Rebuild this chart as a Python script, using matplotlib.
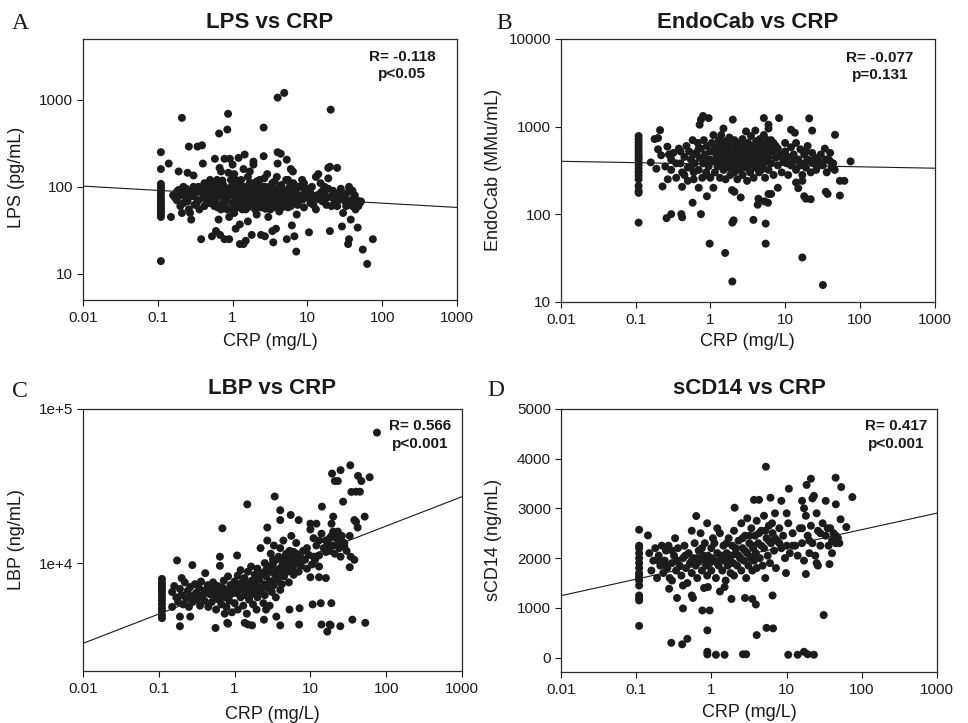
import numpy as np
import matplotlib
matplotlib.use("Agg")
import matplotlib.pyplot as plt
from matplotlib.ticker import NullLocator

plt.rcParams['font.family'] = ['Liberation Sans', 'DejaVu Sans']

# ---------------- DATA (CRP mg/L, marker value) ----------------
lps_points = [
    (0.11, 250), (0.11, 160), (0.11, 108), (0.11, 100), (0.11, 95), (0.11, 90), (0.11, 85), (0.11, 78),
    (0.11, 72), (0.11, 68), (0.11, 64), (0.11, 60), (0.11, 57), (0.11, 54), (0.11, 51), (0.11, 48),
    (0.11, 45), (0.11, 14),
    (0.14, 185), (0.15, 45), (0.16, 80), (0.17, 75), (0.18, 88), (0.18, 70), (0.19, 150), (0.19, 92),
    (0.2, 60), (0.21, 50), (0.21, 620), (0.22, 100), (0.23, 85), (0.24, 72), (0.25, 145), (0.25, 68),
    (0.26, 290), (0.26, 55), (0.27, 50), (0.28, 42), (0.28, 90), (0.3, 135), (0.3, 78), (0.31, 62),
    (0.32, 85), (0.34, 290), (0.35, 70), (0.36, 55), (0.38, 25), (0.39, 300), (0.4, 185), (0.4, 95),
    (0.42, 60), (0.45, 80), (0.47, 110), (0.5, 65), (0.5, 90), (0.53, 27), (0.55, 105), (0.58, 210),
    (0.58, 75), (0.6, 31), (0.6, 95), (0.62, 120), (0.63, 58), (0.65, 42), (0.66, 410), (0.67, 165),
    (0.68, 28), (0.7, 150), (0.7, 80), (0.72, 62), (0.75, 105), (0.78, 25), (0.78, 210), (0.8, 90),
    (0.82, 70), (0.85, 455), (0.85, 55), (0.87, 690), (0.88, 145), (0.9, 25), (0.9, 45), (0.92, 210),
    (0.95, 100), (0.95, 85), (1.0, 180), (1.0, 65), (1.05, 50), (1.1, 33), (1.1, 110), (1.1, 120),
    (1.15, 75), (1.2, 215), (1.2, 90), (1.25, 22), (1.25, 37), (1.3, 60), (1.35, 100), (1.4, 22),
    (1.4, 160), (1.45, 235), (1.5, 24), (1.5, 55), (1.55, 85), (1.6, 40), (1.6, 130), (1.7, 70),
    (1.8, 28), (1.8, 110), (1.9, 195), (1.9, 180), (1.9, 62), (2.0, 90), (2.1, 48), (2.2, 75),
    (2.3, 120), (2.4, 28), (2.4, 58), (2.5, 100), (2.6, 225), (2.6, 480), (2.7, 27), (2.7, 82),
    (2.8, 65), (2.9, 140), (3.0, 45), (3.0, 95), (3.1, 72), (3.2, 55), (3.3, 85), (3.4, 31),
    (3.4, 110), (3.5, 23), (3.5, 68), (3.6, 78), (3.7, 60), (3.8, 33), (3.8, 90), (3.9, 130),
    (4.0, 250), (4.0, 185), (4.0, 1060), (4.1, 72), (4.2, 52), (4.3, 100), (4.4, 240), (4.5, 80),
    (4.6, 62), (4.8, 88), (4.9, 1200), (5.0, 70), (5.2, 120), (5.3, 205), (5.3, 25), (5.5, 58),
    (5.7, 95), (6.0, 160), (6.0, 75), (6.2, 36), (6.4, 150), (6.5, 110), (6.7, 27), (6.8, 65),
    (7.0, 85), (7.1, 18), (7.2, 48), (7.5, 100), (8.0, 70), (8.5, 120), (9.0, 58), (9.5, 80),
    (10.0, 95), (10.5, 30), (11, 65), (12, 75), (13, 130), (13, 55), (14, 140), (15, 85), (16, 68),
    (17, 100), (18, 62), (19, 165), (19, 125), (20, 170), (20, 31), (20.5, 770), (21, 78), (22, 90),
    (23, 70), (25, 165), (25, 60), (27, 85), (29, 35), (30, 50), (32, 68), (35, 22), (36, 25),
    (36, 100), (37, 95), (38, 42), (40, 60), (42, 75), (44, 55), (46, 70), (47, 34), (50, 65),
    (55, 19), (63, 13), (75, 25),
    (0.8, 60), (0.85, 75), (0.9, 95), (0.95, 120), (1.0, 80), (1.0, 55), (1.05, 95), (1.1, 70),
    (1.15, 58), (1.2, 105), (1.2, 65), (1.25, 85), (1.3, 75), (1.3, 120), (1.35, 55), (1.4, 90),
    (1.45, 70), (1.5, 100), (1.5, 65), (1.55, 78), (1.6, 58), (1.65, 92), (1.7, 110), (1.75, 80),
    (1.8, 66), (1.85, 95), (1.9, 75), (2.0, 55), (2.0, 105), (2.1, 70), (2.15, 85), (2.2, 60),
    (2.3, 95), (2.35, 72), (2.4, 80), (2.5, 62), (2.55, 88), (2.6, 70), (2.7, 100), (2.75, 56),
    (2.8, 78), (2.9, 92), (3.0, 65), (3.0, 80), (3.1, 100), (3.2, 70), (3.25, 88), (3.3, 60),
    (3.4, 75), (3.5, 95), (3.5, 58), (3.6, 85), (3.7, 70), (3.8, 65), (3.9, 80), (4.0, 60),
    (4.1, 92), (4.2, 75), (4.3, 68), (4.5, 105), (4.6, 58), (4.7, 78), (4.9, 65), (5.0, 90),
    (5.2, 72), (5.4, 82), (5.6, 66), (5.8, 100), (6.0, 60), (6.3, 88), (6.6, 72), (7.0, 95),
    (7.4, 62), (7.8, 80), (8.2, 100), (8.8, 72), (9.3, 90),
    (0.35, 100), (0.4, 75), (0.45, 65), (0.5, 120), (0.55, 80), (0.6, 65), (0.65, 100), (0.7, 55),
    (0.72, 90), (0.75, 70), (10.5, 75), (11.5, 100), (12, 62), (13.5, 80), (15, 110), (16, 90),
    (18, 75), (21, 60), (24, 80), (26, 70), (28, 95), (31, 75), (33, 60), (34, 85), (38, 70),
    (41, 65), (43, 80), (48, 60), (52, 68),
    (0.2, 80), (0.22, 65), (0.24, 95), (0.27, 78), (0.3, 100), (0.33, 65), (0.37, 88), (0.42, 110),
    (0.45, 95), (0.48, 72), (0.52, 85), (0.57, 60), (0.62, 78), (0.68, 88), (0.73, 118), (0.77, 82),
    (1.05, 140), (1.15, 88), (1.6, 95), (1.7, 150), (2.1, 115), (2.2, 90), (2.45, 68), (2.65, 125),
    (2.85, 88), (3.15, 82), (3.45, 66), (3.65, 115), (4.4, 85), (4.8, 72), (5.5, 120), (5.9, 82),
    (6.8, 100), (7.6, 72), (9.0, 110), (11, 85), (14, 72), (17, 82), (19, 95), (23, 82), (30, 72),
    (35, 65), (40, 90), (45, 62),
]

endocab_points = [
    (0.11, 780), (0.11, 720), (0.11, 660), (0.11, 610), (0.11, 560), (0.11, 520), (0.11, 480),
    (0.11, 450), (0.11, 420), (0.11, 390), (0.11, 360), (0.11, 330), (0.11, 300), (0.11, 275),
    (0.11, 250), (0.11, 210), (0.11, 185), (0.11, 175), (0.11, 80),
    (0.26, 90), (0.3, 100), (0.41, 100), (0.42, 92), (0.58, 135), (0.75, 100), (0.98, 46), (1.58, 36),
    (1.97, 17), (1.97, 80), (2.05, 85), (1.95, 188), (2.1, 180), (2.55, 155), (3.77, 86), (4.3, 128),
    (4.4, 150), (5.5, 78), (5.5, 46), (5.3, 140), (5.9, 135), (6.0, 170), (6.5, 170), (8.0, 200),
    (17, 32), (32, 15.5), (19, 150), (22, 148), (18, 160), (15, 198), (14, 230), (17, 240), (35, 180),
    (37, 170), (54, 163), (54, 240), (62, 240), (75, 400), (46.5, 805), (21, 1240), (23, 900),
    (12, 920), (13.5, 850), (8.3, 1250), (5.2, 1250), (6.0, 1050), (6.0, 950), (2.0, 1200),
    (0.8, 1320), (0.95, 1250), (0.75, 1200), (0.72, 1050), (1.5, 950), (0.213, 910), (0.18, 720),
    (0.2, 740), (0.267, 590), (0.2, 550), (0.22, 470), (0.16, 390), (0.19, 330), (0.23, 207),
    (0.27, 250), (0.3, 320), (0.42, 205), (0.5, 240), (0.6, 300), (0.7, 200), (0.9, 160), (1.1, 200),
    (0.3, 420), (0.32, 500), (0.35, 260), (0.38, 560), (0.4, 380), (0.42, 300), (0.45, 450),
    (0.48, 600), (0.5, 340), (0.52, 520), (0.55, 420), (0.58, 700), (0.6, 250), (0.62, 380),
    (0.65, 500), (0.68, 650), (0.7, 320), (0.72, 440), (0.75, 560), (0.78, 260), (0.8, 380),
    (0.82, 700), (0.85, 480), (0.88, 300), (0.9, 600), (0.92, 420), (0.95, 350), (1.0, 520),
    (1.0, 260), (1.05, 650), (1.1, 400), (1.1, 800), (1.15, 300), (1.2, 480), (1.2, 580),
    (1.25, 350), (1.3, 700), (1.3, 420), (1.35, 260), (1.4, 520), (1.4, 800), (1.45, 380),
    (1.5, 600), (1.5, 320), (1.55, 460), (1.6, 680), (1.6, 250), (1.65, 400), (1.7, 550),
    (1.75, 340), (1.8, 480), (1.8, 750), (1.85, 280), (1.9, 420), (1.9, 620), (2.0, 360),
    (2.0, 500), (2.1, 700), (2.1, 300), (2.2, 450), (2.2, 580), (2.3, 380), (2.3, 250), (2.4, 650),
    (2.4, 500), (2.5, 320), (2.5, 420), (2.6, 560), (2.7, 720), (2.7, 280), (2.8, 460), (2.8, 380),
    (2.9, 600), (3.0, 880), (3.0, 340), (3.0, 500), (3.1, 240), (3.2, 420), (3.2, 650), (3.3, 560),
    (3.4, 300), (3.5, 480), (3.5, 780), (3.6, 380), (3.7, 600), (3.8, 440), (3.8, 260), (3.9, 520),
    (4.0, 900), (4.0, 340), (4.1, 680), (4.2, 460), (4.3, 400), (4.4, 580), (4.5, 300), (4.6, 720),
    (4.7, 500), (4.8, 420), (5.0, 620), (5.0, 360), (5.2, 800), (5.2, 480), (5.4, 260), (5.5, 560),
    (5.6, 400), (5.8, 700), (6.0, 450), (6.0, 320), (6.2, 600), (6.5, 380), (6.8, 520), (7.0, 280),
    (7.0, 650), (7.5, 440), (8.0, 360), (8.0, 560), (8.5, 480), (9.0, 300), (9.5, 400), (10, 650),
    (10, 520), (11, 280), (11, 450), (12, 360), (12, 580), (13, 480), (14, 320), (14, 650), (15, 420),
    (16, 550), (17, 280), (18, 380), (18, 480), (19, 340), (20, 600), (20, 420), (22, 300), (23, 500),
    (24, 380), (25, 440), (26, 320), (28, 400), (30, 480), (32, 360), (34, 560), (36, 300), (38, 420),
    (40, 500), (42, 340), (44, 380), (46, 320),
    (0.25, 350), (0.28, 480), (0.35, 380), (0.4, 520), (0.45, 280), (0.55, 340), (0.6, 480),
    (0.7, 560), (0.85, 400), (0.9, 280), (1.0, 420), (1.15, 560), (1.25, 460), (1.35, 620),
    (1.6, 350), (1.7, 430), (2.0, 620), (2.2, 340), (2.6, 480), (2.9, 420), (3.3, 360), (3.6, 520),
    (4.0, 460), (4.3, 560), (4.8, 320), (5.0, 500), (5.5, 440), (6.2, 520), (6.5, 700), (7.5, 600),
    (9.0, 450), (10.5, 380), (13, 400), (16, 360), (19, 520), (22, 400), (27, 350), (35, 420),
    (40, 400),
]

lbp_points = [
    (0.11, 7900), (0.11, 7500), (0.11, 7200), (0.11, 6900), (0.11, 6600), (0.11, 6300), (0.11, 6000),
    (0.11, 5700), (0.11, 5400), (0.11, 5100), (0.11, 4900), (0.11, 4600), (0.11, 4400),
    (0.174, 10400), (0.277, 9700), (0.41, 8600), (0.2, 8000), (0.19, 4500), (0.19, 3900),
    (0.26, 4500), (0.15, 5200), (0.56, 3800), (0.8, 4100), (0.82, 4050), (0.74, 4700), (1.36, 4100),
    (1.5, 4000), (1.7, 3950), (2.44, 4300), (2.6, 5000), (3.55, 4500), (4.0, 3950), (5.3, 5000),
    (7.1, 4000), (7.2, 5100), (10.7, 5400), (13.7, 5500), (14, 4000), (18.9, 5500), (18, 4000),
    (18.5, 3950), (16.7, 3600), (24.8, 3900), (35.8, 4300), (53, 4100), (75.5, 70000), (33.6, 43000),
    (25, 40000), (19.3, 38000), (21, 34000), (23, 34000), (42.5, 36700), (47, 34000), (60.5, 36000),
    (34.7, 28900), (40, 29000), (45, 29000), (27, 25000), (14.2, 23200), (3.38, 27000),
    (1.47, 24000), (4.0, 22000), (0.69, 16800), (1.08, 11200), (0.64, 11000), (0.64, 9600),
    (5.5, 20500), (7, 19000), (4.0, 19000), (2.7, 17000), (10, 18000), (12, 18000), (20, 20000),
    (19, 18000), (38, 19000), (40, 18500), (42, 17000), (52, 20000), (33, 15000), (34, 11000),
    (38, 10500), (33, 9400), (25, 11000), (28, 13000), (16, 8000), (13, 8100), (10, 8100), (13, 9500),
    (0.15, 6500), (0.16, 7100), (0.17, 6000), (0.18, 5600), (0.19, 6800), (0.2, 6200), (0.21, 5400),
    (0.22, 7500), (0.23, 5900), (0.24, 6600), (0.25, 5200), (0.26, 7000), (0.27, 6100), (0.28, 5600),
    (0.3, 7300), (0.31, 6400), (0.32, 5800), (0.34, 6900), (0.35, 5300), (0.36, 7600), (0.38, 6200),
    (0.4, 5700), (0.42, 6700), (0.44, 7200), (0.45, 5200), (0.47, 6300), (0.5, 6900), (0.5, 5600),
    (0.52, 7500), (0.55, 6100), (0.57, 5000), (0.58, 6600), (0.6, 7100), (0.62, 5800), (0.65, 6400),
    (0.67, 5400), (0.7, 6900), (0.72, 7700), (0.75, 6000), (0.78, 5200), (0.8, 6600), (0.82, 8200),
    (0.85, 5700), (0.88, 7200), (0.9, 6300), (0.92, 4800), (0.95, 6900), (1.0, 7600), (1.0, 5500),
    (1.05, 6400), (1.1, 8300), (1.1, 5000), (1.15, 7000), (1.2, 6000), (1.2, 9000), (1.25, 7500),
    (1.3, 5300), (1.3, 6700), (1.35, 8000), (1.4, 6200), (1.45, 4700), (1.5, 7300), (1.5, 8800),
    (1.55, 5800), (1.6, 6800), (1.65, 9500), (1.7, 7700), (1.75, 5400), (1.8, 6400), (1.85, 8400),
    (1.9, 7100), (1.95, 5000), (2.0, 6000), (2.0, 9200), (2.1, 7800), (2.2, 6600), (2.2, 12500),
    (2.3, 8600), (2.4, 5500), (2.4, 7300), (2.5, 10000), (2.5, 6200), (2.6, 8200), (2.7, 14000),
    (2.7, 6900), (2.8, 9500), (2.9, 7600), (2.9, 5300), (3.0, 8800), (3.0, 11500), (3.1, 6500),
    (3.2, 9800), (3.3, 7200), (3.3, 13000), (3.4, 8400), (3.5, 10500), (3.5, 6000), (3.6, 9000),
    (3.7, 7800), (3.8, 11000), (3.9, 8600), (4.0, 6700), (4.0, 12500), (4.1, 9400), (4.2, 7300),
    (4.3, 10200), (4.4, 14000), (4.5, 8200), (4.6, 9700), (4.8, 11500), (5.0, 8800), (5.0, 10500),
    (5.2, 7500), (5.3, 12000), (5.5, 9300), (5.6, 15000), (5.8, 10800), (6.0, 8400), (6.0, 11800),
    (6.2, 9800), (6.5, 13500), (6.7, 10200), (7.0, 11000), (7.0, 8800), (7.5, 9600), (8.0, 12000),
    (8.5, 10500), (9.0, 9200), (9.5, 11300), (10, 16500), (10.5, 9800), (11, 14500), (11.5, 10500),
    (12, 13000), (13, 11200), (14, 15500), (15, 12500), (16, 14000), (17, 13200), (18, 12000),
    (19, 15000), (20, 13000), (21, 11500), (22, 14500), (23, 16000), (24, 12500), (26, 15000),
    (28, 13500), (30, 12000),
    (0.3, 6200), (0.4, 6400), (0.6, 5900), (0.7, 6300), (0.9, 7000), (1.1, 6600), (1.3, 7300),
    (1.6, 6200), (1.8, 7400), (2.0, 8000), (2.3, 7000), (2.6, 9000), (3.0, 7600), (3.2, 10500),
    (3.6, 8200), (4.2, 9000), (4.6, 11000), (5.2, 9800), (5.8, 9000), (6.5, 11500), (7.5, 10800),
    (9.0, 12500), (11, 11000), (13, 14000), (16, 11800), (18, 14500), (20, 16000), (23, 13000),
    (25, 14000),
]

scd14_points = [
    (0.11, 2570), (0.11, 2250), (0.11, 2200), (0.11, 2100), (0.11, 2000), (0.11, 1900), (0.11, 1800),
    (0.11, 1700), (0.11, 1650), (0.11, 1600), (0.11, 1550), (0.11, 1450), (0.11, 1250), (0.11, 1200),
    (0.11, 1150), (0.11, 640),
    (0.294, 300), (0.41, 270), (0.48, 380), (0.885, 550), (0.885, 120), (0.885, 67), (1.15, 60),
    (1.5, 60), (2.63, 70), (2.9, 70), (10.5, 60), (14, 60), (17, 120), (19, 70), (23, 60), (4.0, 455),
    (5.4, 600), (6.6, 590), (0.76, 950), (0.95, 950), (0.42, 990), (3.9, 1070), (3.5, 1180),
    (2.8, 1200), (31, 857), (5.3, 3835), (21, 3594), (18.4, 3470), (10.7, 3394), (44.7, 3614),
    (53, 3427), (74.5, 3226), (61.9, 2624), (52, 2780), (45, 3080), (33, 3150), (22, 3200),
    (23, 3250), (6.1, 3213), (3.68, 3170), (4.3, 3170), (8.5, 3150), (2.04, 3012), (0.63, 2845),
    (0.88, 2700), (0.144, 2456), (0.33, 2400), (10, 2900), (16, 3150), (17, 3000), (1.2, 2600),
    (0.275, 1385), (0.35, 1200), (0.55, 1250), (0.57, 1200), (0.42, 1450), (1.3, 1330), (1.5, 1420),
    (1.85, 1180), (6.5, 1250), (9.8, 1700), (18, 1680), (0.9, 1420), (0.3, 1550),
    (0.15, 2100), (0.16, 1750), (0.17, 1950), (0.18, 2200), (0.19, 1600), (0.2, 2050), (0.21, 1850),
    (0.22, 2250), (0.23, 1700), (0.24, 1950), (0.25, 2150), (0.26, 1800), (0.27, 2250), (0.28, 1600),
    (0.3, 1900), (0.32, 2050), (0.34, 1750), (0.36, 2200), (0.38, 1850), (0.4, 1650), (0.42, 2000),
    (0.44, 2250), (0.46, 1800), (0.48, 1500), (0.5, 2100), (0.52, 1900), (0.55, 2550), (0.55, 1700),
    (0.58, 2000), (0.6, 2300), (0.62, 1850), (0.65, 1600), (0.68, 2150), (0.7, 1950), (0.72, 2500),
    (0.75, 1750), (0.78, 2050), (0.8, 1400), (0.82, 2300), (0.85, 1850), (0.88, 1650), (0.9, 2050),
    (0.95, 1900), (1.0, 2200), (1.0, 1750), (1.05, 2400), (1.1, 1950), (1.15, 1600), (1.2, 2100),
    (1.25, 1850), (1.3, 2500), (1.35, 2000), (1.4, 1750), (1.45, 2250), (1.5, 1950), (1.55, 1550),
    (1.6, 2100), (1.65, 1850), (1.7, 2400), (1.75, 2000), (1.8, 1700), (1.9, 2250), (1.95, 1900),
    (2.0, 2550), (2.0, 1650), (2.1, 2100), (2.2, 1850), (2.3, 2350), (2.4, 2000), (2.5, 1750),
    (2.5, 2700), (2.6, 2200), (2.7, 1950), (2.8, 2450), (2.9, 1600), (3.0, 2100), (3.0, 2800),
    (3.1, 1850), (3.2, 2300), (3.3, 2000), (3.4, 2600), (3.5, 1750), (3.6, 2200), (3.7, 1950),
    (3.8, 2450), (3.9, 2100), (4.0, 1800), (4.0, 2750), (4.2, 2300), (4.4, 2000), (4.6, 2550),
    (4.8, 1850), (5.0, 2200), (5.0, 2850), (5.2, 1600), (5.4, 2400), (5.6, 2050), (5.8, 2650),
    (6.0, 1900), (6.2, 2300), (6.5, 2500), (6.8, 2150), (7.0, 2900), (7.2, 1800), (7.5, 2350),
    (8.0, 2600), (8.5, 2200), (9.0, 2450), (9.5, 2000), (10, 2250), (10.5, 2700), (11, 2100),
    (12, 2500), (13, 2250), (14, 2050), (15, 2600), (16, 2300), (17, 1950), (18, 2850), (19, 2450),
    (20, 2100), (21, 2650), (22, 2300), (24, 2050), (25, 2900), (26, 2550), (28, 2250), (30, 2700),
    (33, 2450), (36, 2250), (38, 2600), (40, 2350), (42, 2500), (45, 2300), (48, 2400), (50, 2300),
    (25, 1900), (26, 1850), (40, 2100), (37, 1880),
    (0.2, 1950), (0.25, 1850), (0.3, 2150), (0.35, 1950), (0.45, 2050), (0.55, 1950), (0.65, 2000),
    (0.75, 2200), (0.85, 1950), (1.0, 2000), (1.1, 2300), (1.2, 1900), (1.4, 2050), (1.6, 2300),
    (1.8, 2050), (2.1, 2200), (2.3, 2050), (2.6, 2400), (2.8, 2150), (3.2, 2450), (3.5, 2250),
    (3.8, 2050), (4.3, 2500), (4.6, 2250), (5.2, 2550), (5.8, 2350), (6.4, 2700), (7.0, 2400),
    (8.0, 2300), (12, 2250), (16, 2600), (20, 2350), (28, 2500), (35, 2600), (45, 2450),
]

# regression fits: value = f(log10 CRP) as (intercept, slope)
lps_fit = (1.91, -0.049)        # log10(LPS) = a + b*log10(CRP)
endocab_fit = (2.572, -0.0158)  # log10(EndoCab)
lbp_fit = (3.86, 0.19)          # log10(LBP)
scd14_fit = (1909, 332)         # sCD14 (linear) = a + b*log10(CRP)

stats = [("R= -0.118", "p<0.05"), ("R= -0.077", "p=0.131"),
         ("R= 0.566", "p<0.001"), ("R= 0.417", "p<0.001")]
titles = ["LPS vs CRP", "EndoCab vs CRP", "LBP vs CRP", "sCD14 vs CRP"]
ylabels = ["LPS (pg/mL)", "EndoCab (MMu/mL)", "LBP (ng/mL)", "sCD14 (ng/mL)"]
letters = ["A", "B", "C", "D"]
x_ticks = [0.01, 0.1, 1, 10, 100, 1000]
x_ticklabels = ["0.01", "0.1", "1", "10", "100", "1000"]

# ---------------- FIGURE ----------------
W, H = 968, 723
fig = plt.figure(figsize=(W / 100, H / 100), dpi=100)

def box(l, r, t, b):
    return [l / W, 1 - b / H, (r - l) / W, (b - t) / H]

axA = fig.add_axes(box(83, 457, 39, 300))
axB = fig.add_axes(box(560.7, 934.7, 39, 301.7))
axC = fig.add_axes(box(83, 462, 408.7, 671))
axD = fig.add_axes(box(560.7, 937.3, 408.7, 671.7))
axes = [axA, axB, axC, axD]

dot_color = "#1c1c1c"
pts = [lps_points, endocab_points, lbp_points, scd14_points]
fits = [lps_fit, endocab_fit, lbp_fit, scd14_fit]
log_y = [True, True, True, False]
ylims = [(5, 5000), (10, 10000), (2000, 1e5), (-280, 5000)]
title_pads = [7.9, 7.7, 10.4, 10.4]
ann_pos = [(0.853, 0.916, 0.851), (0.854, 0.914, 0.848), (0.889, 0.919, 0.850), (0.890, 0.919, 0.851)]
ylab_coords = [(-0.155, 0.47), (-0.157, 0.5), (-0.153, 0.5), (-0.155, 0.5)]
xlab_coords = [-0.126, -0.119, -0.133, -0.124]

for i, ax in enumerate(axes):
    arr = np.array(pts[i], dtype=float)
    ax.set_xscale("log")
    if log_y[i]:
        ax.set_yscale("log")
    ax.set_xlim(0.01, 1000)
    ax.set_ylim(*ylims[i])
    # regression line
    lx = np.array([0.01, 1000.0])
    a, b = fits[i]
    if log_y[i]:
        ly = 10 ** (a + b * np.log10(lx))
    else:
        ly = a + b * np.log10(lx)
    ax.plot(lx, ly, color="#1a1a1a", lw=0.8, zorder=2)
    ax.scatter(arr[:, 0], arr[:, 1], s=33, color=dot_color, edgecolors="none", zorder=3)

    ax.set_xticks(x_ticks)
    ax.set_xticklabels(x_ticklabels)
    ax.xaxis.set_minor_locator(NullLocator())
    ax.yaxis.set_minor_locator(NullLocator())
    ax.tick_params(axis="both", which="major", direction="out", length=4, width=0.8,
                   labelsize=11, colors="#1a1a1a")
    ax.tick_params(axis="x", pad=4)
    ax.tick_params(axis="y", pad=3)
    for sp in ax.spines.values():
        sp.set_linewidth(0.9)
        sp.set_color("#2a2a2a")

    ax.set_xlabel("CRP (mg/L)", fontsize=13, color="#1a1a1a")
    ax.xaxis.set_label_coords(0.5, xlab_coords[i])
    ax.set_ylabel(ylabels[i], fontsize=13, color="#1a1a1a")
    ax.yaxis.set_label_coords(*ylab_coords[i])
    ax.set_title(titles[i], fontsize=16, fontweight="bold", pad=title_pads[i], color="#1a1a1a")

    xa, y1, y2 = ann_pos[i]
    ax.text(xa, y1, stats[i][0], transform=ax.transAxes, ha="center", va="baseline",
            fontsize=11, fontweight="bold", color="#1a1a1a")
    ax.text(xa, y2, stats[i][1], transform=ax.transAxes, ha="center", va="baseline",
            fontsize=11, fontweight="bold", color="#1a1a1a")

axA.set_yticks([10, 100, 1000])
axA.set_yticklabels(["10", "100", "1000"])
axB.set_yticks([10, 100, 1000, 10000])
axB.set_yticklabels(["10", "100", "1000", "10000"])
axC.set_yticks([1e4, 1e5])
axC.set_yticklabels(["1e+4", "1e+5"])
axD.set_yticks([0, 1000, 2000, 3000, 4000, 5000])
axD.set_yticklabels(["0", "1000", "2000", "3000", "4000", "5000"])

letter_pos = [(11.7, 29.3), (496.7, 29.0), (12.0, 397.0), (487.3, 396.0)]
for L, (px, py) in zip(letters, letter_pos):
    fig.text(px / W, 1 - py / H, L, fontsize=17, family=["Liberation Serif", "DejaVu Serif"],
             ha="left", va="baseline", color="#1a1a1a")

fig.savefig("out.png", dpi=100)
